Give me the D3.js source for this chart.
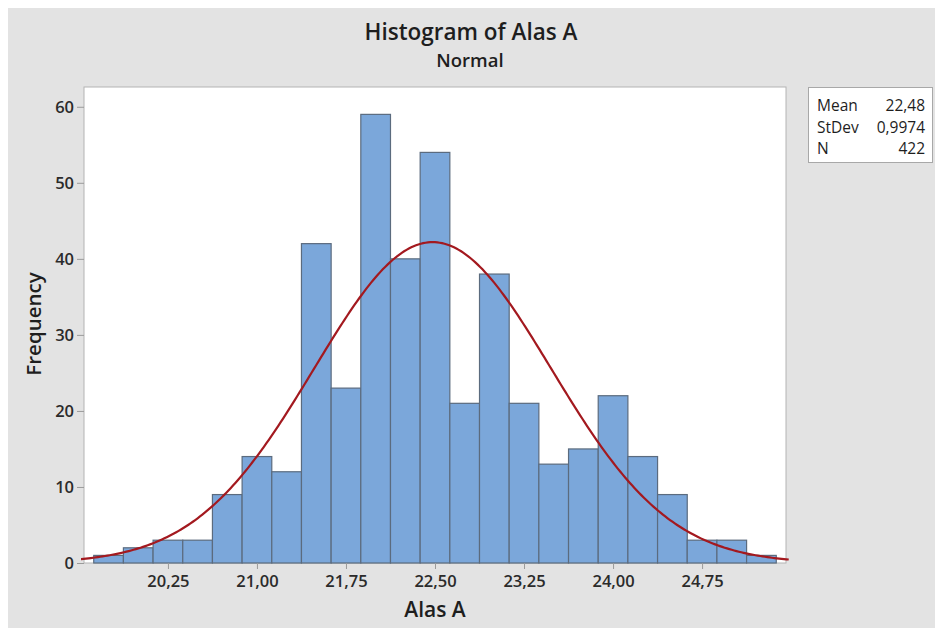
<!DOCTYPE html>
<html>
<head>
<meta charset="utf-8">
<script src="https://cdn.jsdelivr.net/npm/d3@7"></script>
<style>
  body { margin: 0; background: #fff; }
  text { font-family: "Open Sans", "Noto Sans", sans-serif; }
</style>
</head>
<body>
<div class="module-graph"></div>
<script>
"use strict"

// bin centres (width 0.25) and counts
const binCenters = [19.75, 20.00, 20.25, 20.50, 20.75, 21.00, 21.25, 21.50, 21.75, 22.00, 22.25, 22.50,
    22.75, 23.00, 23.25, 23.50, 23.75, 24.00, 24.25, 24.50, 24.75, 25.00, 25.25];
const counts = [1, 2, 3, 3, 9, 14, 12, 42, 23, 59, 40, 54,
    21, 38, 21, 13, 15, 22, 14, 9, 3, 3, 1];
const binWidth = 0.25;

const xTicks = [20.25, 21.00, 21.75, 22.50, 23.25, 24.00, 24.75];
const yTicks = [0, 10, 20, 30, 40, 50, 60];

const statLabels = ["Mean", "StDev", "N"];
const statValues = ["22,48", "0,9974", "422"];
const mean = 22.48, stdev = 0.9974, n = 422;

const width = 935, height = 628;
const plotLeft = 84, plotRight = 786, plotTop = 87, plotBottom = 563;

const svg = d3.select("div.module-graph").append("svg")
    .attr("width", width)
    .attr("height", height);

svg.append("rect")
    .attr("x", 8).attr("y", 8)
    .attr("width", width - 8).attr("height", height - 8)
    .attr("fill", "#e3e3e3");

const scaleX = d3.scaleLinear()
    .domain([19.543, 25.457])
    .range([plotLeft, plotRight]);

const scaleY = d3.scaleLinear()
    .domain([0, 62.6])
    .range([plotBottom, plotTop]);

// plot area
svg.append("rect")
    .attr("x", plotLeft).attr("y", plotTop)
    .attr("width", plotRight - plotLeft).attr("height", plotBottom - plotTop)
    .attr("fill", "#fff")
    .attr("stroke", "#b4b4b4")
    .attr("stroke-width", 1);

svg.append("clipPath").attr("id", "clip")
    .append("rect")
    .attr("x", plotLeft - 3).attr("y", plotTop)
    .attr("width", plotRight - plotLeft + 6).attr("height", plotBottom - plotTop + 2);

// bars
svg.append("g")
    .selectAll("rect")
    .data(binCenters)
    .join("rect")
    .attr("x", (d) => scaleX(d - binWidth / 2))
    .attr("y", (d, i) => scaleY(counts[i]))
    .attr("width", scaleX(binWidth) - scaleX(0))
    .attr("height", (d, i) => scaleY(0) - scaleY(counts[i]))
    .attr("fill", "#7ba7da")
    .attr("stroke", "#5b6b7e")
    .attr("stroke-width", 1.2);

// fitted normal curve
const scale = n * binWidth;
const curvePts = d3.range(19.5, 25.5, 0.02).map((x) => [x,
    scale * Math.exp(-0.5 * Math.pow((x - mean) / stdev, 2)) / (stdev * Math.sqrt(2 * Math.PI))]);

svg.append("path")
    .datum(curvePts)
    .attr("clip-path", "url(#clip)")
    .attr("fill", "none")
    .attr("stroke", "#a3191f")
    .attr("stroke-width", 2.2)
    .attr("d", d3.line().x((d) => scaleX(d[0])).y((d) => scaleY(d[1])));

// axes
const xAxis = d3.axisBottom(scaleX)
    .tickValues(xTicks)
    .tickSize(6)
    .tickSizeOuter(0)
    .tickFormat((d) => d3.format(".2f")(d).replace(".", ","));

const yAxis = d3.axisLeft(scaleY)
    .tickValues(yTicks)
    .tickSize(7)
    .tickSizeOuter(0);

const gx = svg.append("g")
    .attr("transform", "translate(0," + plotBottom + ")")
    .call(xAxis);
const gy = svg.append("g")
    .attr("transform", "translate(" + plotLeft + ",0)")
    .call(yAxis);

[gx, gy].forEach((g) => {
    g.select(".domain").remove();
    g.selectAll(".tick line").attr("stroke", "#9a9a9a");
    g.selectAll(".tick text")
        .attr("fill", "#2b2b2b")
        .style("font-size", "16.5px")
        .style("font-weight", "600");
});
gx.selectAll(".tick text").attr("y", 8).attr("dy", "0.95em");
gy.selectAll(".tick text").attr("x", -10).attr("dy", "0.35em");

// titles
svg.append("text")
    .attr("x", 471).attr("y", 40)
    .attr("text-anchor", "middle")
    .attr("fill", "#1e1e1e")
    .style("font-size", "22.5px")
    .style("font-weight", "600")
    .text("Histogram of Alas A");

svg.append("text")
    .attr("x", 470).attr("y", 67)
    .attr("text-anchor", "middle")
    .attr("fill", "#1e1e1e")
    .style("font-size", "18.5px")
    .style("font-weight", "600")
    .text("Normal");

svg.append("text")
    .attr("x", 435).attr("y", 617)
    .attr("text-anchor", "middle")
    .attr("fill", "#1e1e1e")
    .style("font-size", "21px")
    .style("font-weight", "600")
    .text("Alas A");

svg.append("text")
    .attr("transform", "translate(41,324) rotate(-90)")
    .attr("text-anchor", "middle")
    .attr("fill", "#1e1e1e")
    .style("font-size", "20.5px")
    .style("font-weight", "600")
    .text("Frequency");

// stats box
const box = svg.append("g");
box.append("rect")
    .attr("x", 808.5).attr("y", 87.5)
    .attr("width", 124).attr("height", 75)
    .attr("fill", "#fff")
    .attr("stroke", "#a8a8a8");

box.selectAll("text.lab")
    .data(statLabels)
    .join("text")
    .attr("class", "lab")
    .attr("x", 817)
    .attr("y", (d, i) => 111 + i * 21.5)
    .attr("fill", "#1e1e1e")
    .style("font-size", "15.5px")
    .text((d) => d);

box.selectAll("text.val")
    .data(statValues)
    .join("text")
    .attr("class", "val")
    .attr("x", 925)
    .attr("y", (d, i) => 111 + i * 21.5)
    .attr("text-anchor", "end")
    .attr("fill", "#1e1e1e")
    .style("font-size", "15.5px")
    .text((d) => d);
</script>
</body>
</html>
